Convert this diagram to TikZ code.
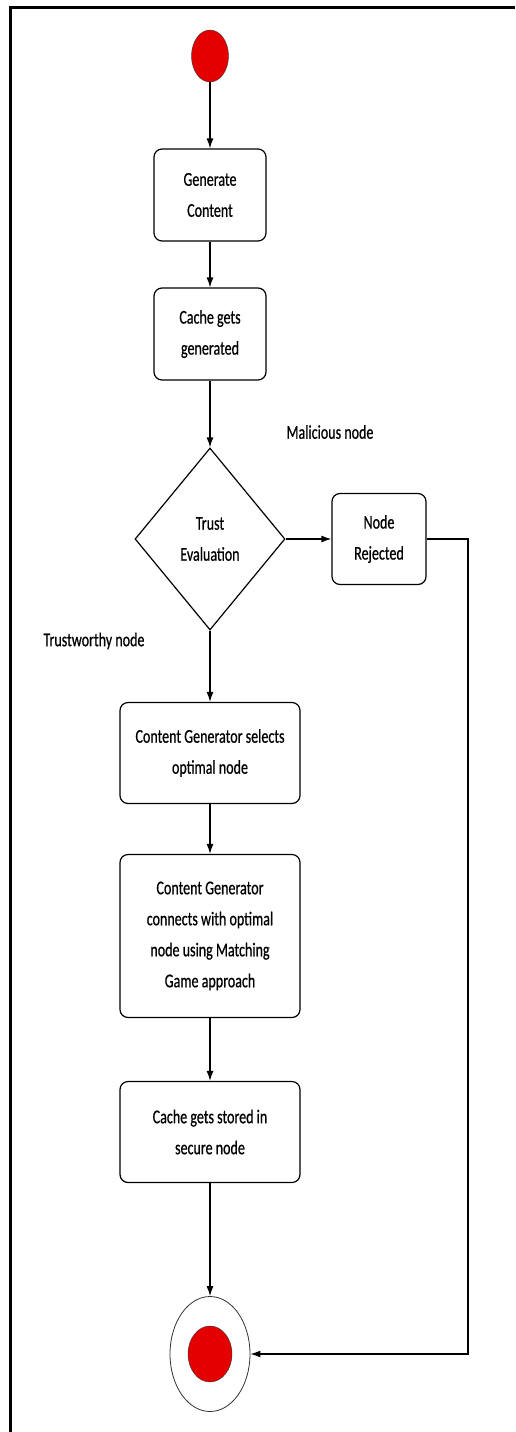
\documentclass[tikz,border=0pt]{standalone}
\usepackage{fontspec}
\setmainfont{Carlito}[FakeStretch=0.72,FakeBold=0.6]
\usetikzlibrary{shapes.geometric,arrows.meta,positioning}

\begin{document}
\begin{tikzpicture}[font=\fontsize{19.5pt}{31pt}\selectfont]
% Define activity diagram styles
\tikzstyle{activity} = [rectangle, rounded corners=8pt, draw=black, line width=1.2pt, fill=white, text centered, align=center]
\tikzstyle{decision} = [diamond, draw=black, line width=1.2pt, fill=white, align=center, inner sep=0pt, minimum width=150pt, minimum height=182pt]
\tikzstyle{initial} = [ellipse, draw=black!80, fill=red!90!black, minimum width=37pt, minimum height=52pt, inner sep=0pt]
\tikzstyle{arrow} = [-{Latex[length=10pt,width=7pt]}, line width=1.2pt, draw=black]

% Frame and picture size
\useasboundingbox (0,0) rectangle (515pt,-1432pt);
\draw[line width=3pt] (10pt,-1432pt) -- (10pt,-7pt) -- (515pt,-7pt);

% Define nodes (main flow)
\node[initial] (Start) at (210pt,-56pt) {};
\node[activity, below of=Start, node distance=139pt, minimum width=112pt, minimum height=92pt] (GenerateContent) {Generate\\Content};
\node[activity, below of=GenerateContent, node distance=139pt, minimum width=112pt, minimum height=92pt] (CacheGenerated) {Cache gets\\generated};
\node[decision, below of=CacheGenerated, node distance=205pt] (TrustEvaluation) {Trust\\Evaluation};
\node[activity, below of=TrustEvaluation, node distance=214pt, minimum width=180pt, minimum height=101pt] (SelectOptimal) {Content Generator selects\\optimal node};
\node[activity, below of=SelectOptimal, node distance=183pt, minimum width=180pt, minimum height=163pt] (ConnectOptimal) {Content Generator\\connects with optimal\\node using Matching\\Game approach};
\node[activity, below of=ConnectOptimal, node distance=196pt, minimum width=180pt, minimum height=101pt] (CacheStored) {Cache gets stored in\\secure node};

% Define final state
\node[ellipse, draw=black!80, line width=0.8pt, fill=white, minimum width=80pt, minimum height=115pt, below of=CacheStored, node distance=222pt] (End) {};
\node[initial, minimum width=44pt, minimum height=56pt] (EndDot) at (End) {};

% Define rejection branch
\node[activity, right of=TrustEvaluation, node distance=169pt, minimum width=94pt, minimum height=91pt] (NodeRejected) {Node\\Rejected};
\coordinate[right of=NodeRejected, node distance=89pt] (ReturnCorner);

% Guard labels
\node[above of=TrustEvaluation, node distance=107pt, xshift=120pt] (MaliciousLabel) {Malicious node};
\node[below of=TrustEvaluation, node distance=102pt, xshift=-116pt] (TrustworthyLabel) {Trustworthy node};

% Relationships (arrows)
\draw[arrow] (Start) -- (GenerateContent);
\draw[arrow] (GenerateContent) -- (CacheGenerated);
\draw[arrow] (CacheGenerated) -- (TrustEvaluation);
\draw[arrow] (TrustEvaluation) -- (NodeRejected);
\draw[arrow] (TrustEvaluation) -- (SelectOptimal);
\draw[arrow] (SelectOptimal) -- (ConnectOptimal);
\draw[arrow] (ConnectOptimal) -- (CacheStored);
\draw[arrow] (CacheStored) -- (End);
\draw[arrow] (NodeRejected) -- (ReturnCorner) |- (End);

\end{tikzpicture}
\end{document}
